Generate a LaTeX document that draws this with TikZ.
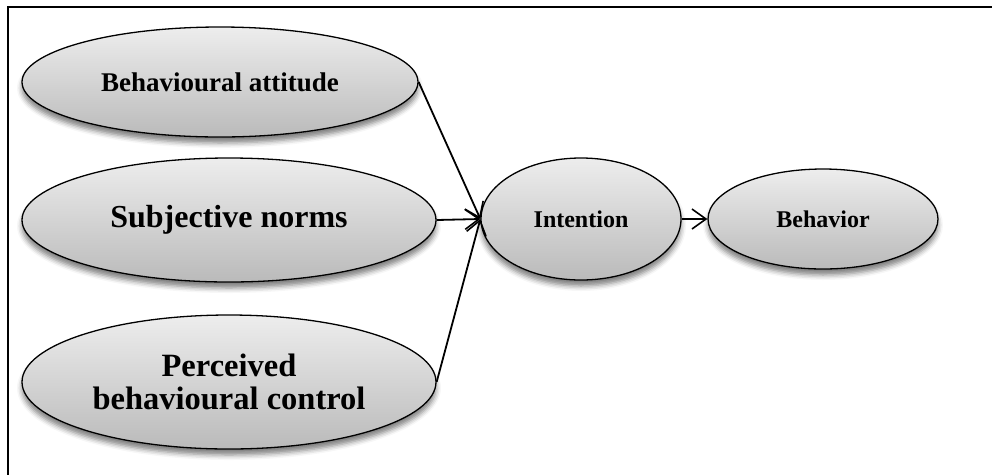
\documentclass[tikz,border=0pt]{standalone}
\usepackage{fontspec}
\setmainfont{Liberation Serif}
\usetikzlibrary{shapes.geometric,arrows.meta,shadows.blur}
\begin{document}
\begin{tikzpicture}[x=1pt,y=-1pt,
  oval/.style={ellipse, draw=black, line width=1.3pt, inner sep=0pt,
    top color=black!7, bottom color=black!27,
    blur shadow={shadow xshift=0pt, shadow yshift=-6pt, shadow blur radius=5pt, shadow opacity=50},
    align=center},
  link/.style={line width=1.8pt, -{Straight Barb[length=14pt,width=20pt,line width=1.6pt]}}
]
\useasboundingbox (0,0) rectangle (992,475);
% outer frame, running off the right and bottom edges
\draw[line width=1.3pt] (992,7) -- (8,7) -- (8,475);

\node[oval, minimum width=396pt, minimum height=110pt, font=\bfseries\fontsize{27}{30}\selectfont] (ba) at (220,82) {Behavioural attitude};
\node[oval, minimum width=414pt, minimum height=124pt, font=\bfseries\fontsize{32}{34}\selectfont] (sn) at (229,220) {Subjective norms};
\node[oval, minimum width=414pt, minimum height=134pt, font=\bfseries\fontsize{32.5}{33}\selectfont] (pbc) at (229,382) {Perceived\\behavioural control};
\node[oval, minimum width=200pt, minimum height=122pt, font=\bfseries\fontsize{24}{28}\selectfont] (int) at (581,219) {Intention};
\node[oval, minimum width=230pt, minimum height=100pt, font=\bfseries\fontsize{24}{28}\selectfont] (beh) at (823,219) {Behavior};

\draw[link] (ba.east) -- (int.west);
\draw[link] (sn.east) -- (int.west);
\draw[link] (pbc.east) -- (int.west);
\draw[link] (int.east) -- (beh.west);
\end{tikzpicture}
\end{document}
